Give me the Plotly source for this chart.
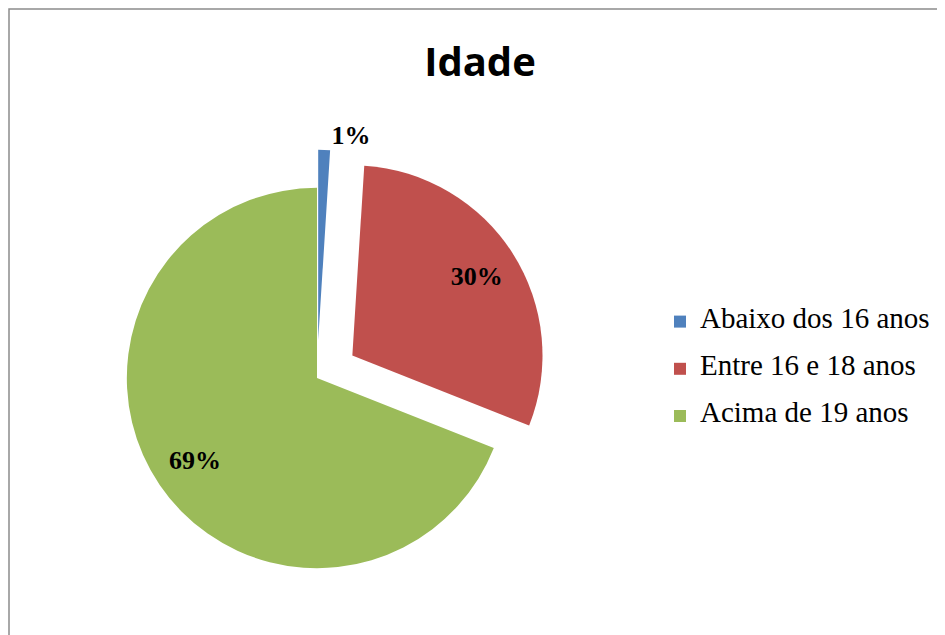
import plotly.graph_objects as go

# dados
faixas = ["Abaixo dos 16 anos", "Entre 16 e 18 anos", "Acima de 19 anos"]
percentuais = [1, 30, 69]
cores = ["#4F81BD", "#C0504D", "#9BBB59"]
destaque = [0.2, 0.22, 0]
posicao_texto = ["outside", "inside", "inside"]

W, H = 945, 635
dominio = dict(x=[77 / W, 541 / W], y=[1 - 602 / H, 1 - 138 / H])

fig = go.Figure()

# fatias
fig.add_trace(go.Pie(
    labels=["<span style='font-size:29px;baseline-shift:7px'>%s</span>" % f for f in faixas],
    values=percentuais,
    sort=False,
    direction="clockwise",
    rotation=0,
    pull=destaque,
    marker=dict(colors=cores, line=dict(width=0)),
    textinfo="none",
    domain=dominio,
    hoverinfo="skip",
))

# rótulos (anel transparente, para os rótulos ficarem mais para fora)
fig.add_trace(go.Pie(
    labels=faixas,
    values=percentuais,
    sort=False,
    direction="clockwise",
    rotation=0,
    pull=destaque,
    hole=0.55,
    marker=dict(colors=["rgba(0,0,0,0)"] * 3, line=dict(width=0)),
    texttemplate="%{percent:.0%}",
    textposition=posicao_texto,
    insidetextorientation="horizontal",
    textfont=dict(family="Liberation Serif", size=26, color="black", weight="bold"),
    domain=dominio,
    showlegend=False,
    hoverinfo="skip",
))

fig.update_layout(
    width=W, height=H,
    margin=dict(l=0, r=0, t=0, b=0, autoexpand=False),
    paper_bgcolor="white",
    plot_bgcolor="white",
    title=dict(text="<b>Idade</b>", x=472 / W, xanchor="center", y=1 - 54 / H, yanchor="middle",
               font=dict(family="Open Sans", size=40, color="black")),
    legend=dict(x=652 / W, xanchor="left", y=1 - 361 / H, yanchor="middle",
                font=dict(family="Liberation Serif", size=34, color="black"),
                bgcolor="rgba(0,0,0,0)"),
    shapes=[dict(type="rect", xref="paper", yref="paper",
                 x0=1 / W, x1=1.05, y0=-0.05, y1=1 - 1 / H,
                 line=dict(color="#8c8c8c", width=1.5))],
)

fig.write_html("out.html")
